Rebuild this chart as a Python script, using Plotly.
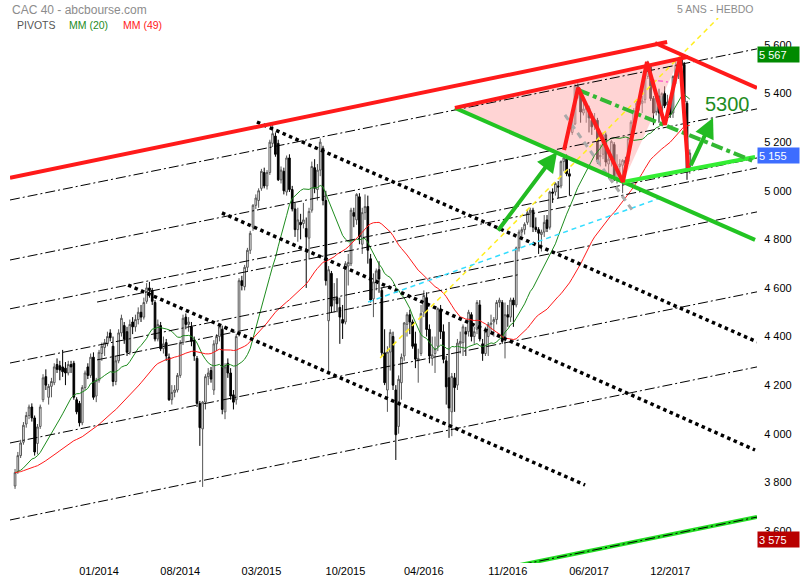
import plotly.graph_objects as go

# ---------------- weekly OHLC (CAC 40) ----------------
opens = [3785,3845,3910,3965,4040,4075,4110,4065,3960,4030,
4140,4235,4150,4195,4210,4285,4280,4275,4270,4250,
4285,4290,4140,4125,4045,4190,4275,4240,4315,4155,
4220,4330,4355,4370,4415,4360,4215,4300,4415,4445,
4420,4335,4460,4440,4470,4500,4480,4545,4600,4590,
4540,4390,4445,4350,4375,4315,4140,4170,4180,4240,
4375,4480,4450,4440,4385,4310,4125,4020,4130,4235,
4260,4180,4370,4400,4430,4090,4290,4250,4160,4140,
4415,4630,4605,4685,4755,4850,4940,4960,5010,5075,
5020,5075,5195,5225,5195,5045,5080,4995,5135,5005,
4925,4840,4870,4865,4845,4805,4920,5095,5005,5085,
5175,4960,4465,4660,4550,4560,4520,4470,4460,4690,
4700,4910,4880,4975,4780,4910,4935,4720,4555,4630,
4675,4590,4333,4180,4336,4400,4180,4030,4210,4320,
4450,4490,4460,4370,4300,4330,4500,4560,4430,4310,
4330,4360,4510,4420,4300,4230,4090,4230,4200,4370,
4375,4420,4420,4490,4400,4430,4530,4370,4330,4400,
4450,4460,4470,4540,4540,4400,4490,4480,4550,4530,
4765,4830,4840,4870,4910,4920,4850,4840,4820,4830,
4880,4850,4995,4995,5020,5020,5120,5130,5070,5240,
5275,5430,5405,5320,5335,5340,5290,5270,5290,5140,
5150,5230,5110,5130,5190,5070,5100,5105,5125,5120,
5215,5280,5335,5355,5360,5375,5470,5510,5380,5325,
5390,5330,5400,5355,5365,5320,5470,5510,5545,5520,
5360,5085]

highs = [3855,3925,3975,4048,4090,4120,4125,4075,4040,4120,
4245,4265,4205,4230,4290,4310,4300,4345,4295,4300,
4300,4300,4150,4135,4200,4260,4290,4330,4335,4230,
4345,4375,4390,4420,4430,4400,4320,4430,4490,4460,
4440,4470,4480,4490,4520,4530,4560,4620,4625,4600,
4550,4470,4460,4400,4390,4330,4200,4200,4250,4385,
4490,4495,4480,4460,4400,4320,4135,4135,4245,4270,
4275,4385,4410,4450,4445,4290,4310,4270,4180,4410,
4640,4650,4695,4765,4835,4945,4985,5010,5090,5095,
5085,5210,5271,5240,5210,5100,5095,5145,5150,5020,
4950,4930,4905,4950,4890,4930,5120,5130,5110,5215,
5185,5000,4690,4670,4620,4640,4560,4530,4710,4740,
4930,4930,4990,4990,4930,4985,4980,4740,4660,4680,
4710,4600,4430,4360,4430,4420,4200,4240,4330,4460,
4500,4510,4470,4420,4350,4530,4590,4582,4450,4400,
4400,4520,4530,4450,4320,4460,4250,4250,4390,4420,
4450,4440,4510,4500,4440,4550,4550,4390,4440,4460,
4490,4480,4550,4560,4550,4540,4530,4560,4560,4770,
4840,4850,4870,4925,4930,4930,4890,4850,4840,4900,
4900,5000,5010,5035,5040,5125,5140,5150,5090,5310,
5440,5442,5420,5370,5360,5350,5320,5320,5300,5190,
5240,5240,5170,5210,5200,5150,5130,5130,5140,5220,
5290,5340,5370,5375,5390,5475,5535,5520,5390,5400,
5420,5405,5430,5395,5380,5475,5530,5540,5567,5530,
5370,5170]

lows = [3773,3835,3900,3955,4025,4060,4050,3910,3915,4020,
4130,4180,4120,4150,4200,4250,4220,4234,4200,4240,
4250,4140,4080,4030,4035,4180,4225,4230,4140,4130,
4210,4300,4320,4360,4380,4195,4200,4290,4400,4370,
4320,4325,4410,4420,4450,4460,4470,4535,4560,4530,
4380,4380,4340,4330,4300,4135,4120,4150,4170,4230,
4365,4430,4420,4360,4300,4110,3950,3781,4100,4200,
4210,4160,4340,4380,4080,4060,4230,4140,4100,4120,
4400,4590,4590,4670,4740,4835,4925,4930,5000,5010,
5005,5065,5180,5140,5040,5030,4985,4980,4995,4915,
4810,4790,4800,4845,4600,4720,4910,4990,4960,5060,
4940,4610,4251,4500,4500,4500,4370,4390,4450,4610,
4690,4850,4860,4780,4740,4880,4700,4540,4480,4590,
4580,4320,4200,4090,4260,4180,3892,4000,4140,4300,
4400,4410,4350,4270,4210,4320,4480,4400,4290,4280,
4250,4340,4390,4290,4120,3983,3990,4090,4180,4330,
4320,4320,4400,4380,4370,4410,4380,4300,4320,4320,
4420,4400,4450,4520,4370,4310,4440,4460,4440,4520,
4750,4810,4820,4860,4850,4830,4830,4740,4750,4810,
4830,4840,4950,4980,4970,5010,5080,5060,4980,5230,
5270,5380,5280,5310,5280,5240,5230,5250,5110,5100,
5130,5100,5050,5100,5040,5030,5060,4990,5080,5110,
5200,5260,5320,5330,5320,5360,5460,5370,5270,5310,
5280,5320,5340,5340,5300,5300,5440,5460,5490,5355,
5045,5070]

closes = [3840,3910,3962,4035,4075,4110,4065,3925,4028,4110,
4230,4200,4195,4215,4275,4265,4262,4255,4250,4285,
4275,4150,4090,4045,4190,4250,4240,4315,4150,4220,
4335,4360,4375,4400,4395,4215,4300,4415,4475,4390,
4335,4450,4440,4470,4500,4480,4540,4600,4590,4545,
4390,4450,4350,4370,4320,4140,4170,4180,4240,4375,
4475,4450,4460,4380,4320,4125,4025,4130,4235,4250,
4225,4370,4400,4440,4100,4275,4250,4155,4130,4400,
4630,4610,4685,4755,4825,4940,4970,5000,5080,5020,
5075,5200,5235,5150,5045,5085,5000,5135,5005,4925,
4840,4880,4860,4880,4810,4915,5100,5010,5085,5200,
4960,4630,4675,4525,4555,4535,4480,4455,4700,4705,
4920,4895,4985,4810,4910,4935,4755,4550,4625,4670,
4637,4333,4210,4336,4417,4200,3996,4224,4315,4456,
4490,4460,4360,4307,4310,4495,4569,4429,4320,4325,
4350,4515,4420,4306,4193,4106,4236,4190,4373,4380,
4440,4410,4500,4400,4420,4540,4390,4330,4420,4450,
4455,4470,4540,4550,4380,4490,4480,4550,4530,4765,
4830,4840,4862,4910,4920,4850,4840,4825,4830,4870,
4845,4995,4990,5030,5015,5120,5135,5070,5060,5267,
5432,5405,5324,5336,5343,5300,5263,5295,5120,5145,
5235,5118,5130,5203,5060,5100,5110,5125,5113,5214,
5282,5330,5360,5362,5370,5467,5518,5380,5320,5390,
5320,5400,5350,5365,5313,5470,5517,5526,5515,5364,
5079,5155]

weeks = list(range(len(closes)))

tick_weeks = [30, 59, 88, 118, 146, 176, 205, 234]
tick_labels = ["01/2014", "08/2014", "03/2015", "10/2015", "04/2016", "11/2016", "06/2017", "12/2017"]
price_ticks = [3600, 3800, 4000, 4200, 4400, 4600, 4800, 5000, 5200, 5400, 5600]
price_labels = ["3 600", "3 800", "4 000", "4 200", "4 400", "4 600", "4 800", "5 000", "5 200", "5 400", "5 600"]

# price boxes on the right axis
box_prices = [5567, 5155, 3575]
box_labels = ["5 567", "5 155", "3 575"]
box_colors = ["#008a00", "#3d6dff", "#b80000"]

# ---------------- hand-drawn analysis lines (week index, price) ----------------
pivot_lines = [
    [(-1.8, 4962), (265, 5584)],
    [(-1.8, 4715), (265, 5337)],
    [(-1.8, 4514), (265, 5135)],
    [(-1.8, 4291), (265, 4913)],
    [(-1.8, 3962), (265, 4584)],
    [(-1.8, 3645), (265, 4275)],
    [(29.3, 4542), (265, 5094)],
    [(29.3, 4304), (180.4, 4656)],
    [(-1.8, 3036), (265, 3657)],
]
dotted_lines = [
    [(86.4, 5283), (265, 4378)],
    [(73.9, 4909), (264.3, 3933)],
    [(40.4, 4612), (203.6, 3789)],
]
red_lines = [
    [(-1.8, 5053), (232.9, 5612)],
    [(228.6, 5608), (265, 5423)],
    [(157.1, 5341), (240.4, 5551)],
]
red_zigzag = [(196.1, 5168), (201.1, 5423), (217.1, 5036), (225.7, 5530),
              (232.1, 5271), (237.5, 5547), (240.4, 5094)]
pink_zone = [(157.1, 5341), (237.5, 5547), (217.1, 5036), (157.1, 5341)]
green_down = [(157.1, 5341), (264.3, 4798)]
lime_up = [(217.1, 5036), (264.3, 5139)]
lime_bottom = [(-1.8, 3036), (265, 3657)]
green_dashdot = [(201.1, 5415), (264.3, 5119)]
yellow_line = [(130.4, 4312), (251.1, 5711)]
cyan_line = [(126.1, 4542), (230.4, 4970)]
gray_line = [(196.4, 5312), (220.4, 4921)]
magenta_line = [(226.8, 5456), (233.2, 5448)]
arrows = [[(172.1, 4830), (193.6, 5160)], [(241.1, 5098), (249.3, 5300)]]
target_text = (254.3, 5357, "5300")

fig = go.Figure()

def add_line(pts, color, width, dash="solid"):
    fig.add_trace(go.Scatter(x=[p[0] for p in pts], y=[p[1] for p in pts], mode="lines",
                             line=dict(color=color, width=width, dash=dash),
                             hoverinfo="skip", showlegend=False))

# pink zone
fig.add_trace(go.Scatter(x=[p[0] for p in pink_zone], y=[p[1] for p in pink_zone],
                         mode="lines", fill="toself", fillcolor="rgba(255,170,170,0.5)",
                         line=dict(width=0), hoverinfo="skip", showlegend=False))

# candles
fig.add_trace(go.Candlestick(x=weeks, open=opens, high=highs, low=lows, close=closes,
                             increasing=dict(line=dict(color="#555555", width=1), fillcolor="#ffffff"),
                             decreasing=dict(line=dict(color="#000000", width=1), fillcolor="#000000"),
                             whiskerwidth=0, showlegend=False, hoverinfo="skip"))

# moving averages
def sma(vals, w):
    padded = [vals[0]] * (w - 1) + list(vals)
    return [sum(padded[i:i + w]) / w for i in range(len(vals))]

fig.add_trace(go.Scatter(x=weeks, y=sma(closes, 20), mode="lines",
                         line=dict(color="#1e8c1e", width=1), hoverinfo="skip", showlegend=False))
fig.add_trace(go.Scatter(x=weeks, y=sma(closes, 49), mode="lines",
                         line=dict(color="#ff1a1a", width=1), hoverinfo="skip", showlegend=False))

# lines
add_line(lime_bottom, "#22dd22", 4)
for seg in pivot_lines:
    add_line(seg, "#000000", 1, "10px,3px,2px,3px")
for seg in dotted_lines:
    add_line(seg, "#000000", 3.5, "dot")
add_line(yellow_line, "#ffee22", 1.5, "5px,4px")
add_line(cyan_line, "#33ddff", 1.5, "5px,4px")
add_line(gray_line, "#aaaaaa", 3, "6px,5px")
add_line(magenta_line, "#ff66cc", 1.5, "5px,3px")
add_line(green_down, "#22c422", 4)
add_line(lime_up, "#33ee33", 4)
add_line(green_dashdot, "#33b833", 4, "dashdot")
for seg in red_lines:
    add_line(seg, "#ff1a1a", 4)
add_line(red_zigzag, "#ff1a1a", 4)

annotations = []
for tail, head in arrows:
    annotations.append(dict(x=head[0], y=head[1], ax=tail[0], ay=tail[1], xref="x", yref="y",
                            axref="x", ayref="y", text="", showarrow=True, arrowhead=2,
                            arrowsize=1, arrowwidth=4, arrowcolor="#22bb22"))
annotations.append(dict(x=target_text[0], y=target_text[1], xref="x", yref="y", text=target_text[2],
                        showarrow=False, font=dict(size=20, color="#1e8c1e", family="Liberation Sans, Arial")))

for p, lab, col in zip(box_prices, box_labels, box_colors):
    annotations.append(dict(x=1, y=p, xref="paper", yref="y", xanchor="left", yanchor="middle",
                            text=lab, showarrow=False, bgcolor=col, width=39, height=13, align="left",
                            borderpad=1, yshift=-2,
                            font=dict(size=11, color="#ffffff", family="Liberation Sans, Arial")))

hdr = "Liberation Sans, Arial"
annotations += [
    dict(x=0, y=1.0147, xref="paper", yref="paper", xanchor="left", yanchor="middle",
         text="CAC 40 - abcbourse.com", showarrow=False, font=dict(size=12, color="#8c8c8c", family=hdr)),
    dict(x=0.0067, y=0.987, xref="paper", yref="paper", xanchor="left", yanchor="middle",
         text="PIVOTS", showarrow=False, font=dict(size=10.5, color="#555555", family=hdr)),
    dict(x=0.0763, y=0.987, xref="paper", yref="paper", xanchor="left", yanchor="middle",
         text="MM (20)", showarrow=False, font=dict(size=10.5, color="#1e8c1e", family=hdr)),
    dict(x=0.1486, y=0.987, xref="paper", yref="paper", xanchor="left", yanchor="middle",
         text="MM (49)", showarrow=False, font=dict(size=10.5, color="#ff1a1a", family=hdr)),
    dict(x=0.9973, y=1.0165, xref="paper", yref="paper", xanchor="right", yanchor="middle",
         text="5 ANS - HEBDO", showarrow=False, font=dict(size=10.5, color="#8c8c8c", family=hdr)),
]

fig.update_layout(
    width=800, height=580,
    margin=dict(l=10, r=43, t=18, b=17),
    paper_bgcolor="#ffffff", plot_bgcolor="#ffffff",
    showlegend=False, boxgap=0.15, hovermode=False,
    annotations=annotations,
    xaxis=dict(range=[-1.8, 265], tickvals=tick_weeks, ticktext=tick_labels,
               showgrid=False, zeroline=False, showline=False, ticks="",
               tickfont=dict(size=11, color="#000000", family=hdr),
               rangeslider=dict(visible=False), automargin=False, fixedrange=True),
    yaxis=dict(range=[3468, 5711], tickvals=price_ticks, ticktext=price_labels, side="right",
               showgrid=False, zeroline=False, showline=False, ticks="outside", ticklen=4,
               tickcolor="rgba(0,0,0,0)",
               tickfont=dict(size=11, color="#000000", family=hdr), automargin=False, fixedrange=True),
)

fig.write_html("out.html", config={"displayModeBar": False},
               post_script="document.body.style.margin='0px';")
